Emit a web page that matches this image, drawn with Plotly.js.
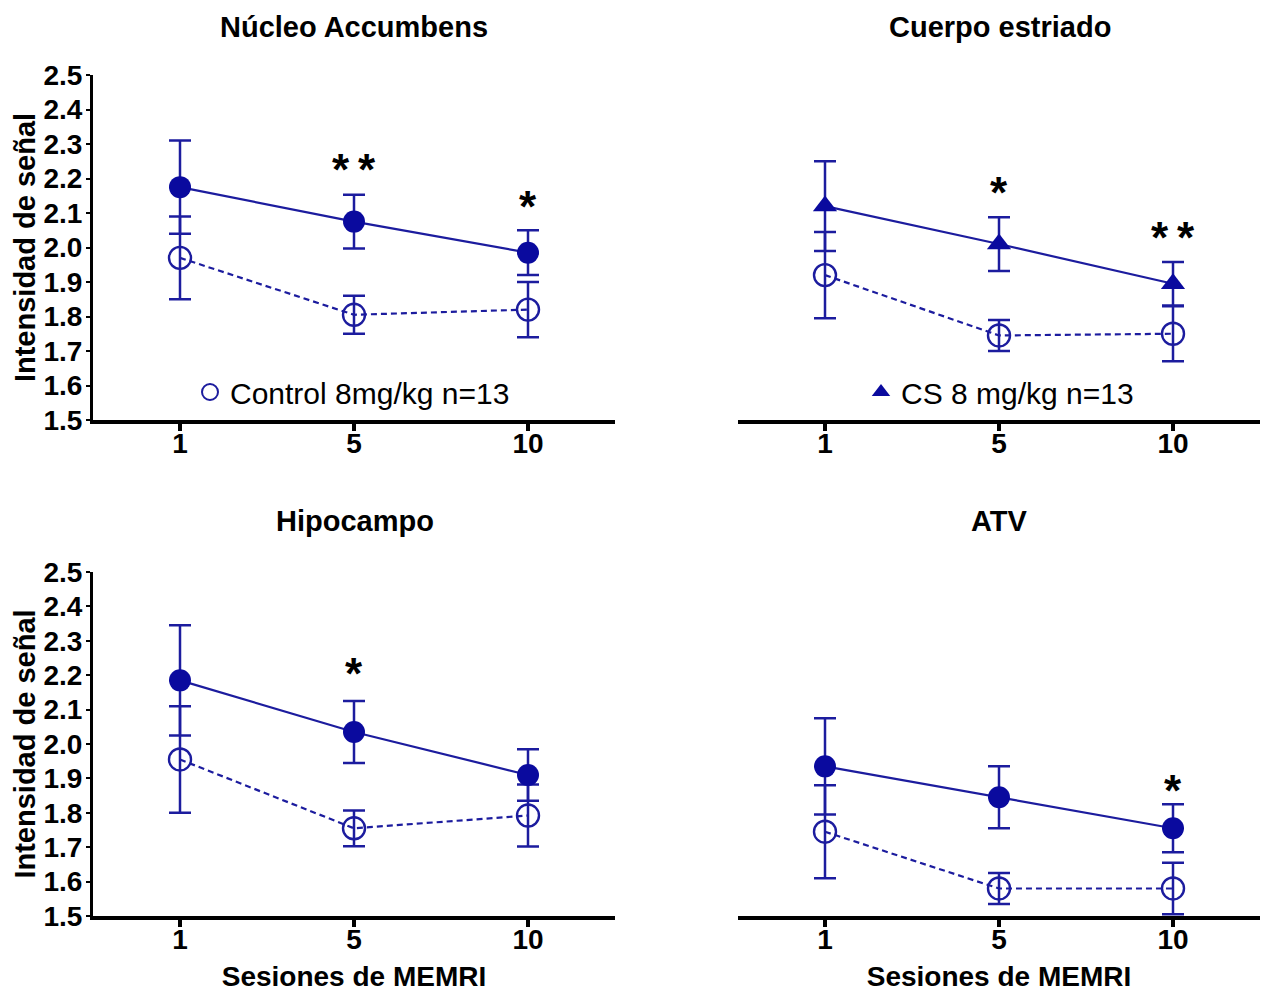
<!DOCTYPE html>
<html>
<head>
<meta charset="utf-8">
<script src="https://cdn.plot.ly/plotly-3.0.1.min.js"></script>
<style>html,body{margin:0;padding:0;background:#fff;}#chart{width:1272px;height:994px;}</style>
</head>
<body>
<div id="chart"></div>
<script>
// ---- data ----
const sessions = ["1", "5", "10"];
const panelTitles = ["Núcleo Accumbens", "Cuerpo estriado", "Hipocampo", "ATV"];
const yTickVals = [1.5, 1.6, 1.7, 1.8, 1.9, 2.0, 2.1, 2.2, 2.3, 2.4, 2.5];
const yTickText = ["1.5", "1.6", "1.7", "1.8", "1.9", "2.0", "2.1", "2.2", "2.3", "2.4", "2.5"];

// CS (filled) series per panel
const csNAcc  = [2.175, 2.075, 1.985];
const csNAccSE = [0.135, 0.078, 0.065];
const csStr   = [2.12, 2.01, 1.895];
const csStrSE  = [0.13, 0.078, 0.063];
const csHip   = [2.185, 2.035, 1.91];
const csHipSE  = [0.16, 0.09, 0.075];
const csATV   = [1.935, 1.845, 1.755];
const csATVSE  = [0.14, 0.09, 0.07];

// Control (open circle) series per panel
const ctNAcc  = [1.97, 1.805, 1.82];
const ctNAccSE = [0.12, 0.055, 0.08];
const ctStr   = [1.92, 1.745, 1.75];
const ctStrSE  = [0.125, 0.045, 0.08];
const ctHip   = [1.955, 1.755, 1.792];
const ctHipSE  = [0.155, 0.052, 0.09];
const ctATV   = [1.745, 1.58, 1.58];
const ctATVSE  = [0.135, 0.045, 0.075];

// significance marks: [session, label, y level]
const starsNAcc = [["5", "*\u2009*", 2.245], ["10", "*", 2.14]];
const starsStr  = [["5", "*", 2.18], ["10", "*\u2009*", 2.05]];
const starsHip  = [["5", "*", 2.225]];
const starsATV  = [["10", "*", 1.885]];

const legendControl = "Control 8mg/kg n=13";
const legendCS = "CS 8 mg/kg n=13";
const yTitle = "Intensidad de señal";
const xTitle = "Sesiones de MEMRI";

// ---- styles ----
const markerBlue = "#0a0a9e";
const lineBlue = "#1c1c9e";
const W = 1272, H = 994;
const fx = p => p / W;
const fy = p => 1 - p / H;
const FAM = "Liberation Sans, Arial, sans-serif";

const panels = [
  {cs: csNAcc, csSE: csNAccSE, ct: ctNAcc, ctSE: ctNAccSE, stars: starsNAcc, sym: "circle", xa: "x", ya: "y"},
  {cs: csStr, csSE: csStrSE, ct: ctStr, ctSE: ctStrSE, stars: starsStr, sym: "triangle-up", xa: "x2", ya: "y2"},
  {cs: csHip, csSE: csHipSE, ct: ctHip, ctSE: ctHipSE, stars: starsHip, sym: "circle", xa: "x3", ya: "y3"},
  {cs: csATV, csSE: csATVSE, ct: ctATV, ctSE: ctATVSE, stars: starsATV, sym: "circle", xa: "x4", ya: "y4"}
];

const traces = [];
const annotations = [];
panels.forEach((p, i) => {
  traces.push({
    type: "scatter", mode: "lines+markers", x: sessions, y: p.ct,
    xaxis: p.xa, yaxis: p.ya, showlegend: false, cliponaxis: false,
    line: {color: lineBlue, width: 2.2, dash: "6px,4px"},
    marker: {symbol: "circle-open", size: 22, color: lineBlue, line: {width: 2.4, color: lineBlue}},
    error_y: {type: "data", array: p.ctSE, visible: true, color: lineBlue, thickness: 2.5, width: 11}
  });
  traces.push({
    type: "scatter", mode: "lines+markers", x: sessions, y: p.cs,
    xaxis: p.xa, yaxis: p.ya, showlegend: false, cliponaxis: false,
    line: {color: lineBlue, width: 2.2},
    marker: {symbol: p.sym, size: p.sym === "circle" ? 22 : 21, color: markerBlue, line: {width: 0}},
    error_y: {type: "data", array: p.csSE, visible: true, color: lineBlue, thickness: 2.5, width: 11}
  });
  p.stars.forEach(s => {
    annotations.push({
      xref: p.xa, yref: p.ya, x: sessions.indexOf(s[0]), y: s[2], text: s[1], showarrow: false,
      font: {family: FAM, size: 44, color: "#000", weight: "bold"},
      yanchor: "middle", xanchor: "center", yshift: -7
    });
  });
});

// legend-only traces
traces.push({
  type: "scatter", mode: "markers", x: [null], y: [null], xaxis: "x", yaxis: "y",
  name: legendControl, showlegend: true, legend: "legend",
  marker: {symbol: "circle-open", size: 19, color: lineBlue, line: {width: 2, color: lineBlue}}
});
traces.push({
  type: "scatter", mode: "markers", x: [null], y: [null], xaxis: "x2", yaxis: "y2",
  name: legendCS, showlegend: true, legend: "legend2",
  marker: {symbol: "triangle-up", size: 18, color: markerBlue}
});

const tickFont = {family: FAM, size: 28, color: "#000", weight: "bold"};

function xAxis(dom, anchor, withTitle) {
  const a = {
    domain: dom, anchor: anchor, type: "category", range: [-0.5, 2.5],
    showline: true, linewidth: 4, linecolor: "#000", showgrid: false, zeroline: false,
    ticks: "outside", ticklen: 7, tickwidth: 4, tickcolor: "#000",
    tickfont: tickFont, ticklabelstandoff: -12, fixedrange: true
  };
  if (withTitle) a.title = {text: xTitle, font: {family: FAM, size: 28, color: "#000", weight: "bold"}, standoff: 14};
  return a;
}
function yAxis(dom, anchor, visible) {
  return {
    domain: dom, anchor: anchor, range: [1.5, 2.5], showgrid: false, zeroline: false,
    showline: visible, linewidth: 3, linecolor: "#000",
    ticks: visible ? "outside" : "", ticklen: 4, tickwidth: 2, tickcolor: "#000",
    tickvals: yTickVals, ticktext: yTickText, showticklabels: visible,
    tickfont: tickFont, ticklabelstandoff: -2,
    title: visible ? {text: yTitle, font: {family: FAM, size: 29, color: "#000", weight: "bold"}, standoff: 0} : {text: ""},
    fixedrange: true
  };
}

const xL = [fx(93), fx(615)], xR = [fx(738), fx(1260)];
const yT = [fy(420), fy(75)], yB = [fy(916), fy(572)];

const titleFont = {family: FAM, size: 29, color: "#000", weight: "bold"};
const titlePos = [[354, 27], [1000, 27], [355, 521], [999, 521]];
panelTitles.forEach((t, i) => {
  annotations.push({xref: "paper", yref: "paper", x: fx(titlePos[i][0]), y: fy(titlePos[i][1]),
    text: t, showarrow: false, font: titleFont, xanchor: "center", yanchor: "middle"});
});

const legendFont = {family: FAM, size: 30, color: "#000"};

const layout = {
  width: W, height: H, margin: {l: 0, r: 0, t: 0, b: 0},
  paper_bgcolor: "#fff", plot_bgcolor: "rgba(0,0,0,0)",
  xaxis: xAxis(xL, "y", false), yaxis: yAxis(yT, "x", true),
  xaxis2: xAxis(xR, "y2", false), yaxis2: yAxis(yT, "x2", false),
  xaxis3: xAxis(xL, "y3", true), yaxis3: yAxis(yB, "x3", true),
  xaxis4: xAxis(xR, "y4", true), yaxis4: yAxis(yB, "x4", false),
  legend: {x: fx(190), y: fy(392), xanchor: "left", yanchor: "middle", bgcolor: "rgba(0,0,0,0)",
    font: legendFont, itemwidth: 30, tracegroupgap: 0},
  legend2: {x: fx(861), y: fy(392), xanchor: "left", yanchor: "middle", bgcolor: "rgba(0,0,0,0)",
    font: legendFont, itemwidth: 30, tracegroupgap: 0},
  annotations: annotations,
  showlegend: true
};

Plotly.newPlot("chart", traces, layout, {displayModeBar: false, staticPlot: true});
</script>
</body>
</html>
